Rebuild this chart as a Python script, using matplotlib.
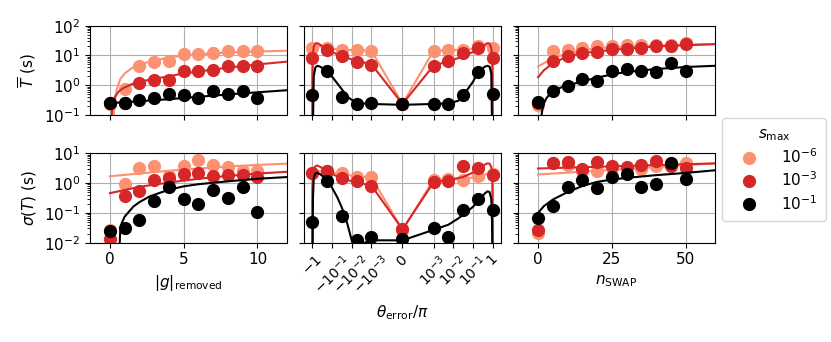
from matplotlib import pyplot as plt
from matplotlib.lines import Line2D
from matplotlib.ticker import NullLocator
import numpy as np


COLORS = ["#fc9272", "#d62728", "black"]
LEGEND_LABELS = [r"$10^{-6}$", r"$10^{-3}$", r"$10^{-1}$"]

# |g|_removed panel
g_removed = [0, 1, 2, 3, 4, 5, 6, 7, 8, 9, 10]
g_mean_6 = [0.24, 0.75, 4.3, 6.0, 6.3, 11.1, 11.0, 12.0, 13.6, 13.6, 14.4]
g_mean_3 = [0.25, 0.26, 1.17, 1.5, 1.5, 2.9, 2.9, 3.3, 4.3, 4.6, 4.3]
g_mean_1 = [0.25, 0.25, 0.32, 0.38, 0.51, 0.47, 0.36, 0.66, 0.51, 0.66, 0.36]
g_std_6 = [0.026, 0.94, 3.3, 3.7, 1.7, 3.9, 5.9, 4.2, 3.4, 2.5, 2.5]
g_std_3 = [0.013, 0.36, 0.53, 1.26, 1.5, 2.05, 2.2, 1.7, 1.85, 1.85, 1.6]
g_std_1 = [0.024, 0.031, 0.059, 0.245, 0.74, 0.29, 0.2, 0.57, 0.32, 0.74, 0.11]

g_fit_mean_6_x = [0.2, 0.3, 0.45, 0.7, 1.0, 1.5, 2, 3, 4, 5, 6, 8, 10, 12]
g_fit_mean_6_y = [0.03, 0.2, 0.7, 1.6, 2.5, 3.8, 5.0, 6.8, 8.5, 10.0, 11.0, 12.5, 13.6, 14.4]
g_fit_mean_3_x = [0.05, 0.15, 0.34, 0.6, 0.9, 1.5, 2, 3, 4, 5, 6, 8, 10, 12]
g_fit_mean_3_y = [0.03, 0.15, 0.41, 0.62, 0.8, 1.1, 1.3, 1.65, 2.0, 2.5, 2.9, 3.9, 5.0, 6.2]
g_fit_mean_1_x = [0, 2, 4, 6, 8, 10, 12]
g_fit_mean_1_y = [0.25, 0.29, 0.34, 0.41, 0.49, 0.58, 0.68]
g_fit_std_6_x = [0, 2, 4, 6, 8, 10, 12]
g_fit_std_6_y = [1.7, 2.1, 2.6, 3.1, 3.6, 4.1, 4.5]
g_fit_std_3_x = [0, 2, 4, 6, 8, 10, 12]
g_fit_std_3_y = [0.46, 0.75, 1.05, 1.4, 1.75, 2.1, 2.4]
g_fit_std_1_x = [0.64, 0.7, 0.8, 1.0, 1.6, 2, 2.7, 4, 5, 6, 8, 10, 12]
g_fit_std_1_y = [0.005, 0.025, 0.045, 0.075, 0.165, 0.23, 0.36, 0.6, 0.78, 0.92, 1.15, 1.4, 1.6]

# theta_error panel
theta = [-1, -0.178, -0.0316, -0.0056, -0.001, 0, 0.001, 0.0056, 0.0316, 0.178, 1]
th_mean_6 = [17.7, 17.9, 15.5, 15.5, 14.4, 0.235, 14.4, 15.5, 15.5, 20, 17.7]
th_mean_3 = [8.1, 15, 9.3, 6.0, 4.9, 0.235, 4.6, 6.6, 12, 17.7, 8.1]
th_mean_1 = [0.47, 2.9, 0.41, 0.235, 0.25, 0.23, 0.235, 0.235, 0.47, 2.7, 0.5]
th_std_6 = [2.2, 2.5, 2.2, 1.6, 1.6, 0.027, 1.26, 1.4, 1.3, 1.7, 2.05]
th_std_3 = [2.2, 2.5, 1.5, 1.2, 0.83, 0.028, 1.07, 1.2, 3.9, 3.3, 1.9]
th_std_1 = [0.051, 1.15, 0.076, 0.012, 0.015, 0.013, 0.031, 0.015, 0.13, 0.30, 0.13]

th_fit_x = [-0.999, -0.99, -0.95, -0.85, -0.7, -0.55, -0.4, -0.178, -0.0316, -0.0056, -0.001, 0,
            0.001, 0.0056, 0.0316, 0.178, 0.4, 0.55, 0.7, 0.85, 0.95, 0.99, 0.999]
th_fit_mean_6 = [0.05, 5, 15, 20, 22, 22, 20, 17.5, 15.5, 15, 14.5, 0.235,
                 14.5, 15, 15.5, 17.5, 20, 22, 22, 20, 15, 5, 0.05]
th_fit_mean_3 = [0.02, 2, 10, 20, 25, 26, 23, 15.5, 9.3, 6.6, 5.1, 0.235,
                 4.6, 6.3, 9.3, 15.5, 23, 26, 25, 18, 8, 1.5, 0.02]
th_fit_std_6 = [0.005, 0.8, 2.0, 2.4, 2.6, 2.6, 2.5, 2.4, 2.0, 1.7, 1.55, 0.027,
                1.3, 1.35, 1.4, 1.6, 1.9, 2.1, 2.2, 2.2, 2.0, 0.8, 0.005]
th_fit_std_3 = [0.005, 0.5, 1.5, 3.0, 3.7, 3.9, 3.5, 2.5, 1.39, 1.07, 0.83, 0.028,
                1.07, 1.25, 1.6, 2.7, 4.2, 4.6, 4.5, 3.5, 2.0, 0.5, 0.005]

th_fit_mean_1_x = [-0.97, -0.93, -0.85, -0.7, -0.55, -0.4, -0.178, -0.1, -0.0316, -0.0178, -0.0056, -0.001, 0,
                   0.001, 0.0056, 0.0178, 0.0316, 0.1, 0.178, 0.4, 0.55, 0.7, 0.85, 0.93, 0.97]
th_fit_mean_1_y = [0.05, 0.05, 2.0, 4.0, 4.5, 4.2, 3.0, 1.95, 0.73, 0.42, 0.25, 0.235, 0.22,
                   0.235, 0.245, 0.3, 0.45, 1.3, 2.7, 4.2, 4.5, 4.2, 2.5, 0.05, 0.05]
th_fit_std_1_x = [-0.97, -0.93, -0.85, -0.7, -0.55, -0.4, -0.178, -0.1, -0.056, -0.0316, -0.0178, -0.01,
                  -0.0056, -0.001, 0, 0.001, 0.0056, 0.0178, 0.0316, 0.1, 0.178, 0.4, 0.55, 0.7, 0.85, 0.93, 0.97]
th_fit_std_1_y = [0.005, 0.3, 1.5, 2.1, 2.2, 2.0, 1.3, 0.7, 0.35, 0.15, 0.05, 0.012,
                  0.008, 0.012, 0.012, 0.027, 0.04, 0.065, 0.086, 0.16, 0.24, 0.45, 0.53, 0.5, 0.3, 0.05, 0.005]

th_ticks = [-1, -0.1, -0.01, -0.001, 0, 0.001, 0.01, 0.1, 1]
th_tick_labels = [r"$-1$", r"$-10^{-1}$", r"$-10^{-2}$", r"$-10^{-3}$", r"$0$",
                  r"$10^{-3}$", r"$10^{-2}$", r"$10^{-1}$", r"$1$"]

# n_SWAP panel
n_swap = [0, 5, 10, 15, 20, 25, 30, 35, 40, 45, 50]
n_mean_6 = [0.22, 13.6, 15.5, 18, 20, 20, 22, 23, 22, 23, 26]
n_mean_3 = [0.25, 6.3, 9.3, 12, 13, 16, 17, 17.7, 20, 21.6, 24]
n_mean_1 = [0.28, 0.66, 0.91, 1.58, 1.44, 2.9, 3.55, 3.1, 2.7, 5.8, 3.0]
n_std_6 = [0.021, 4.6, 4.2, 2.5, 2.5, 3.3, 3.3, 2.9, 3.7, 4.4, 4.8]
n_std_3 = [0.027, 4.8, 5.1, 3.0, 5.1, 3.9, 3.5, 4.2, 5.5, 3.7, 3.3]
n_std_1 = [0.07, 0.17, 0.74, 1.32, 0.66, 1.6, 2.05, 0.74, 0.97, 4.6, 1.42]

n_fit_mean_6_x = [0, 5, 10, 20, 30, 40, 50, 60]
n_fit_mean_6_y = [4.3, 8, 12, 17.7, 20, 21.6, 23, 24]
n_fit_mean_3_x = [0, 2, 5, 10, 15, 20, 30, 40, 50, 60]
n_fit_mean_3_y = [1.86, 3.2, 5.5, 9.3, 12, 13.7, 17, 20, 22, 24]
n_fit_mean_1_x = [1.1, 1.5, 2, 2.8, 4, 5, 7.5, 10, 15, 20, 25, 30, 40, 50, 60]
n_fit_mean_1_y = [0.09, 0.16, 0.25, 0.36, 0.52, 0.62, 0.82, 0.98, 1.35, 1.8, 2.3, 2.8, 3.5, 4.1, 4.5]
n_fit_std_6_x = [0, 60]
n_fit_std_6_y = [1.95, 4.6]
n_fit_std_3_x = [0, 60]
n_fit_std_3_y = [3.1, 4.6]
n_fit_std_1_x = [0, 2, 5, 10, 15, 20, 25, 30, 40, 50, 60]
n_fit_std_1_y = [0.1, 0.17, 0.28, 0.5, 0.8, 1.1, 1.32, 1.5, 1.85, 2.2, 2.7]


def draw_panel(ax, x, points, fits):
    for (fx, fy), y, color in zip(fits, points, COLORS):
        ax.plot(fx, fy, color=color, lw=1.5)
        ax.plot(x, y, "o", color=color, ms=8.5)
    ax.grid(True, color="#b0b0b0", lw=0.8)


def main():
    plt.rcParams["font.size"] = 11
    fig, axes = plt.subplots(2, 3, figsize=(8.31, 3.42), dpi=100,
                             sharex="col", sharey="row")
    fig.subplots_adjust(left=0.1083, right=0.8604, top=0.9249, bottom=0.2904,
                        wspace=0.0865, hspace=0.429)

    draw_panel(axes[0, 0], g_removed, [g_mean_6, g_mean_3, g_mean_1],
               [(g_fit_mean_6_x, g_fit_mean_6_y), (g_fit_mean_3_x, g_fit_mean_3_y),
                (g_fit_mean_1_x, g_fit_mean_1_y)])
    draw_panel(axes[1, 0], g_removed, [g_std_6, g_std_3, g_std_1],
               [(g_fit_std_6_x, g_fit_std_6_y), (g_fit_std_3_x, g_fit_std_3_y),
                (g_fit_std_1_x, g_fit_std_1_y)])
    draw_panel(axes[0, 1], theta, [th_mean_6, th_mean_3, th_mean_1],
               [(th_fit_x, th_fit_mean_6), (th_fit_x, th_fit_mean_3),
                (th_fit_mean_1_x, th_fit_mean_1_y)])
    draw_panel(axes[1, 1], theta, [th_std_6, th_std_3, th_std_1],
               [(th_fit_x, th_fit_std_6), (th_fit_x, th_fit_std_3),
                (th_fit_std_1_x, th_fit_std_1_y)])
    draw_panel(axes[0, 2], n_swap, [n_mean_6, n_mean_3, n_mean_1],
               [(n_fit_mean_6_x, n_fit_mean_6_y), (n_fit_mean_3_x, n_fit_mean_3_y),
                (n_fit_mean_1_x, n_fit_mean_1_y)])
    draw_panel(axes[1, 2], n_swap, [n_std_6, n_std_3, n_std_1],
               [(n_fit_std_6_x, n_fit_std_6_y), (n_fit_std_3_x, n_fit_std_3_y),
                (n_fit_std_1_x, n_fit_std_1_y)])

    axes[0, 0].set_yscale("log")
    axes[1, 0].set_yscale("log")
    axes[0, 0].set_ylim(0.1, 100)
    axes[1, 0].set_ylim(0.01, 10)
    axes[0, 0].set_ylabel(r"$\overline{T}$ (s)")
    axes[1, 0].set_ylabel(r"$\sigma(T)$ (s)")

    axes[1, 0].set_xlim(-1.35, 12)
    axes[1, 0].set_xticks([0, 5, 10])
    axes[1, 0].set_xlabel(r"$|g|_\mathrm{removed}$")

    mid = axes[1, 1]
    mid.set_xscale("symlog", linthresh=1e-3, linscale=1.42)
    mid.set_xlim(-2.65, 2.65)
    mid.set_xticks(th_ticks)
    mid.set_xticklabels(th_tick_labels, rotation=45, fontsize=10)
    mid.xaxis.set_minor_locator(NullLocator())
    mid.set_xlabel(r"$\theta_\mathrm{error}/\pi$")
    for ax in axes[:, 1]:
        ax.tick_params(axis="y", which="minor", length=0)

    axes[1, 2].set_xlim(-6.8, 60)
    axes[1, 2].set_xticks([0, 25, 50])
    axes[1, 2].set_xlabel(r"$n_\mathrm{SWAP}$")

    handles = [Line2D([], [], marker="o", ls="", color=c, ms=8.5) for c in COLORS]
    fig.legend(handles, LEGEND_LABELS, title=r"$s_\mathrm{max}$",
               loc="center left", bbox_to_anchor=(0.869, 0.505), borderaxespad=0,
               borderpad=0.55, labelspacing=0.3, handlelength=2.4, handletextpad=0.9)

    fig.savefig("out.png", dpi=100)


if __name__ == "__main__":
    main()
